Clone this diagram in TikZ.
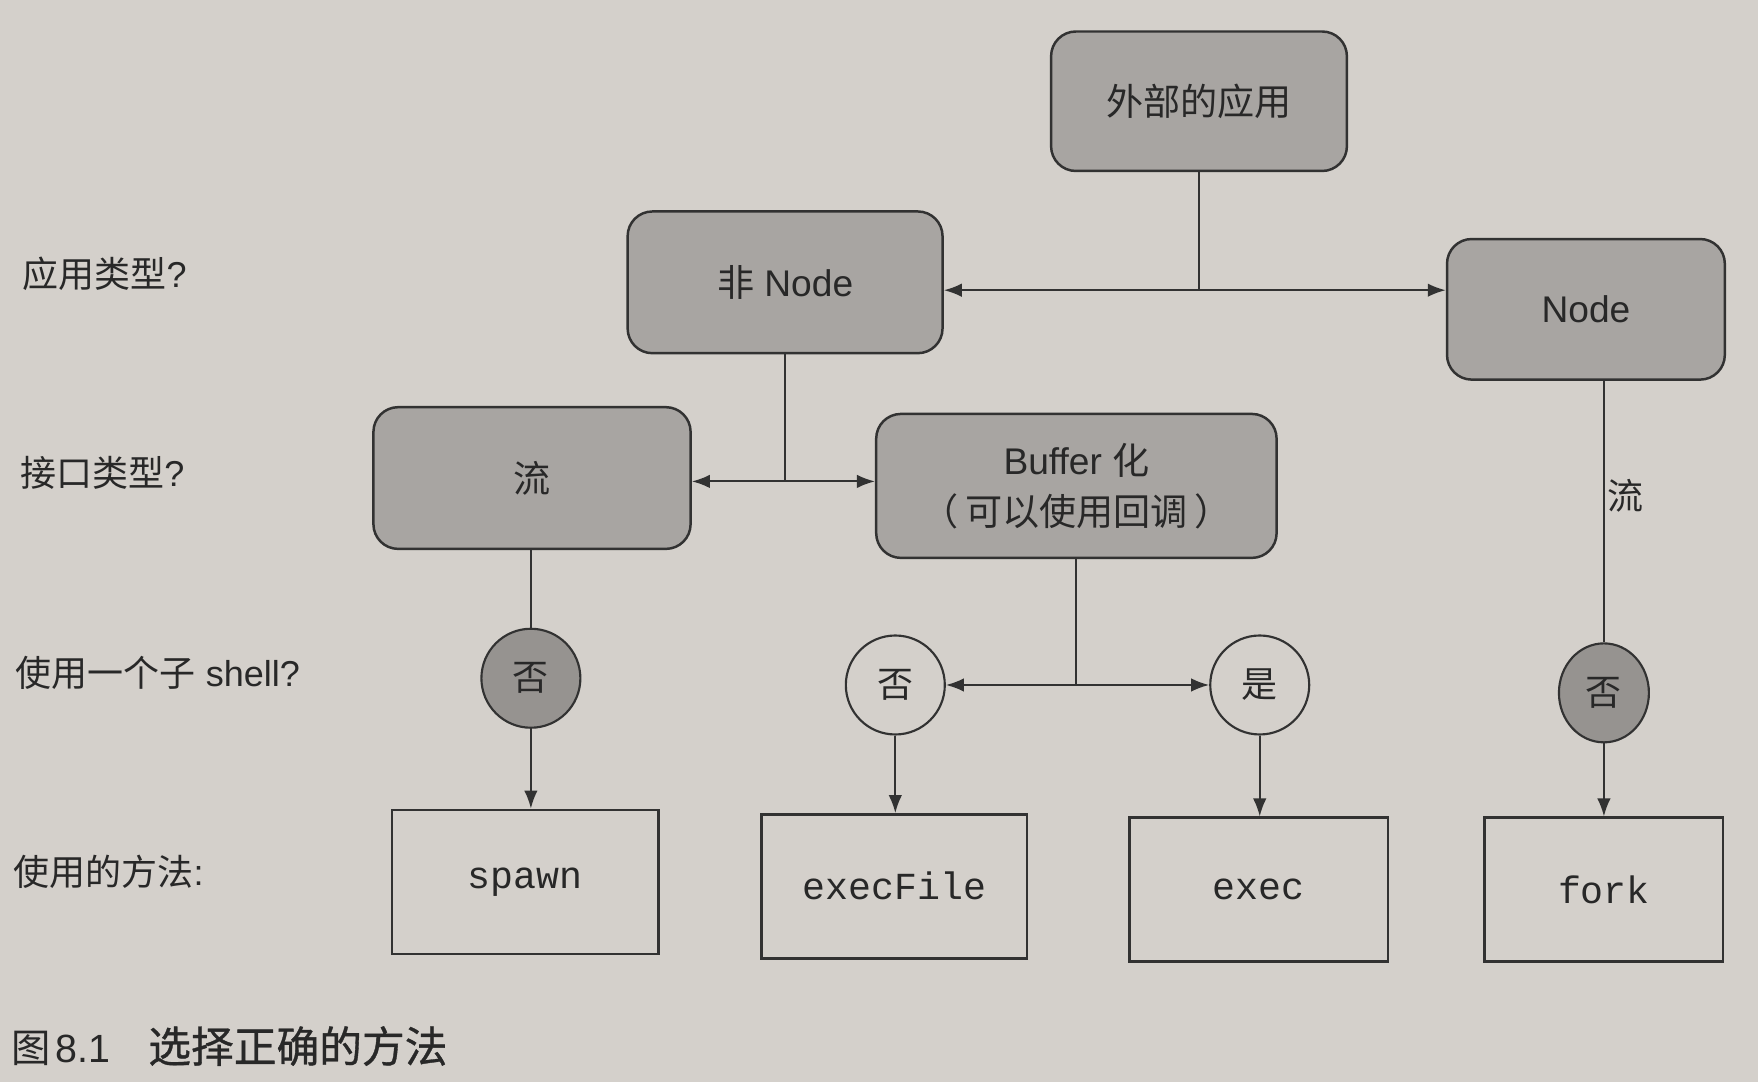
\documentclass[tikz,border=0pt]{standalone}
\usepackage{fontspec}
\setmainfont{Liberation Sans}
\newfontfamily\cjk{Noto Sans CJK SC}
\newfontfamily\cjkcap[FakeBold=0.8]{Noto Sans CJK SC}
\newfontfamily\mono{Liberation Mono}
\usetikzlibrary{arrows.meta,shapes.geometric}
\definecolor{paper}{RGB}{212,208,203}
\definecolor{boxfill}{RGB}{168,165,162}
\definecolor{darkfill}{RGB}{150,147,144}
\definecolor{ink}{RGB}{50,50,50}
\definecolor{txt}{RGB}{40,40,40}
\begin{document}
\begin{tikzpicture}[x=1pt,y=-1pt,
  decision/.style={draw=ink, line width=2.2pt, fill=boxfill, rounded corners=22pt, align=center, text=txt, font=\fontsize{33}{45}\selectfont, inner sep=0pt},
  choice/.style={draw=ink, line width=1.9pt, circle, minimum size=88pt, inner sep=0pt, font=\cjk\fontsize{32}{36}\selectfont, text=txt},
  darkchoice/.style={choice, fill=darkfill},
  method/.style={draw=ink, line width=2.2pt, minimum height=128pt, font=\mono\fontsize{34}{40}\selectfont, text=txt, inner sep=0pt},
  link/.style={draw=ink, line width=1.8pt},
  arr/.style={link, -{Latex[length=16pt,width=12pt]}},
  darr/.style={link, {Latex[length=16pt,width=12pt]}-{Latex[length=16pt,width=12pt]}},
  rowlabel/.style={anchor=west, font=\fontsize{32}{36}\selectfont, text=txt, inner sep=0pt},
]
\fill[paper] (0,0) rectangle (1563,962);
\useasboundingbox (0,0) rectangle (1563,962);

% decision boxes
\node[decision, minimum width=263pt, minimum height=124pt] (ext) at (1066,90) {\cjk 外部的应用};
\node[decision, minimum width=280pt, minimum height=126pt] (non) at (698,251) {{\cjk 非} Node};
\node[decision, minimum width=247pt, minimum height=125pt] (nd) at (1410,275) {Node};
\node[decision, minimum width=282pt, minimum height=126pt] (str) at (473,425) {\cjk 流};
\node[decision, minimum width=356pt, minimum height=128pt] (buf) at (957,432) {Buffer {\cjk 化}\\{\cjk （\hspace{6pt}可以使用回调\hspace{6pt}）}};

% choices
\node[darkchoice] (c1) at (472,603) {否};
\node[choice] (c2) at (796,609) {否};
\node[choice] (c3) at (1120,609) {是};
\node[darkchoice, ellipse, minimum width=80pt, minimum height=88pt] (c4) at (1426,616) {否};

% methods
\node[method, minimum width=237pt] (spawn) at (467,784) {spawn};
\node[method, minimum width=236pt] (execfile) at (795,788) {execFile};
\node[method, minimum width=230pt] (exec) at (1119,791) {exec};
\node[method, minimum width=212pt] (fork) at (1426,791) {fork};

% connectors
\coordinate (j1) at (ext.south |- 0,258);
\draw[link] (ext.south) -- (j1);
\draw[darr] (non.east |- j1) -- (nd.west |- j1);
\coordinate (j2) at (non.south |- 0,428);
\draw[link] (non.south) -- (j2);
\draw[darr] (str.east |- j2) -- (buf.west |- j2);
\coordinate (j3) at (buf.south |- 0,609);
\draw[link] (buf.south) -- (j3);
\draw[darr] (c2.east) -- (c3.west);
\draw[link] (str.south -| c1) -- (c1.north);
\draw[link] (nd.south -| c4) -- (c4.north) node[pos=0.44, anchor=west, xshift=2pt, inner sep=0pt, font=\cjk\fontsize{32}{36}\selectfont, text=txt] (lbl) {流};
\draw[arr] (c1.south) -- (c1.south |- spawn.north);
\draw[arr] (c2.south) -- (c2.south |- execfile.north);
\draw[arr] (c3.south) -- (c3.south |- exec.north);
\draw[arr] (c4.south) -- (c4.south |- fork.north);

% row labels
\node[rowlabel] (q1) at (20,243) {{\cjk 应用类型}?};
\node[rowlabel] (q2) at (18,420) {{\cjk 接口类型}?};
\node[rowlabel] (q3) at (14,598) {{\cjk 使用一个子} shell?};
\node[rowlabel] (q4) at (12,775) {{\cjk 使用的方法}:};

% caption
\node[anchor=west, inner sep=0pt, font=\fontsize{35}{40}\selectfont, text=txt] (cap) at (10,930) {{\cjk 图}\hspace{4pt}8.1\hspace{34pt}{\cjkcap\fontsize{38}{42}\selectfont 选择正确的方法}};
\end{tikzpicture}
\end{document}
